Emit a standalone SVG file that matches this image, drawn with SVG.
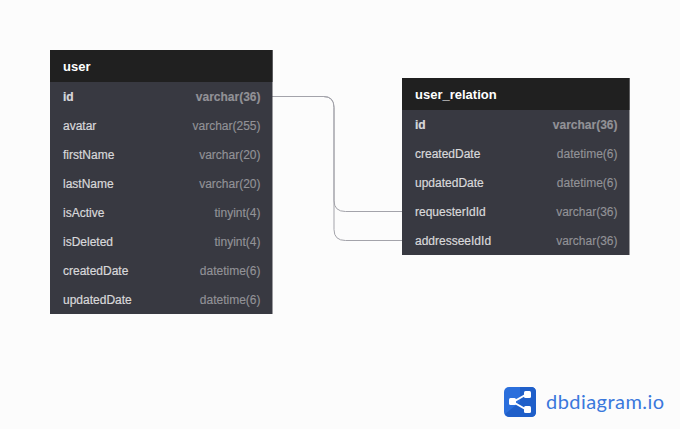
<svg xmlns="http://www.w3.org/2000/svg" width="680" height="429" viewBox="0 0 680 429">
<style>
text{font-family:"Liberation Sans",Arial,sans-serif;font-size:12px}
.body{fill:#383941}.head{fill:#202020}
.title{fill:#fff;font-size:13px;font-weight:700}
.f{fill:#d8d8da;stroke:#d8d8da;stroke-width:.2}.t{fill:#929297;stroke:#929297;stroke-width:.15;text-anchor:end}
.b{font-weight:700}
.c{fill:none;stroke:#a3a3aa;stroke-width:1}
</style>
<rect width="680" height="429" fill="#fcfcfc"/>
<g id="connectors">
<path class="c" d="M272 96.500H323.500Q334 96.500 334 107.500V200.500Q334 211.500 345.500 211.500H402"/>
<path class="c" d="M272 96.500H323.500Q334 96.500 334 107.500V229.500Q334 240.500 345.500 240.500H402"/>
</g>
<g id="user">
<rect class="body" x="50" y="50" width="222.500" height="264"/>
<rect class="head" x="50" y="50" width="222.500" height="32"/>
<text class="title" x="63" y="71">user</text>
<text class="f b" x="63" y="101">id</text><text class="t b" x="260.500" y="101">varchar(36)</text>
<text class="f" x="63" y="130">avatar</text><text class="t" x="260.500" y="130">varchar(255)</text>
<text class="f" x="63" y="159">firstName</text><text class="t" x="260.500" y="159">varchar(20)</text>
<text class="f" x="63" y="188">lastName</text><text class="t" x="260.500" y="188">varchar(20)</text>
<text class="f" x="63" y="217">isActive</text><text class="t" x="260.500" y="217">tinyint(4)</text>
<text class="f" x="63" y="246">isDeleted</text><text class="t" x="260.500" y="246">tinyint(4)</text>
<text class="f" x="63" y="275">createdDate</text><text class="t" x="260.500" y="275">datetime(6)</text>
<text class="f" x="63" y="304">updatedDate</text><text class="t" x="260.500" y="304">datetime(6)</text>
</g>
<g id="user_relation">
<rect class="body" x="402" y="78" width="227.500" height="177"/>
<rect class="head" x="402" y="78" width="227.500" height="32"/>
<text class="title" x="415" y="99">user_relation</text>
<text class="f b" x="415" y="129">id</text><text class="t b" x="617.500" y="129">varchar(36)</text>
<text class="f" x="415" y="158">createdDate</text><text class="t" x="617.500" y="158">datetime(6)</text>
<text class="f" x="415" y="187">updatedDate</text><text class="t" x="617.500" y="187">datetime(6)</text>
<text class="f" x="415" y="216">requesterIdId</text><text class="t" x="617.500" y="216">varchar(36)</text>
<text class="f" x="415" y="245">addresseeIdId</text><text class="t" x="617.500" y="245">varchar(36)</text>
</g>
<g id="logo">
<rect x="504" y="387" width="32" height="30" rx="5" fill="#2b6fdc"/>
<path d="M520 387H531Q536 387 536 392V412Q536 417 531 417H510Q506 417 505 414L520 402Z" fill="#1f5fc9"/>
<path d="M527 394L513 402L527 410" fill="none" stroke="#fff" stroke-width="2"/>
<rect x="509" y="398" width="7" height="7" rx="1.500" fill="#fff"/>
<rect x="524" y="391" width="7" height="7" rx="1.500" fill="#fff"/>
<rect x="524" y="406" width="7" height="7" rx="1.500" fill="#fff"/>
<text x="546" y="409" style="font-family:Lato,sans-serif;font-size:20px;letter-spacing:.45px" fill="#3a78dc">dbdiagram.io</text>
</g>
</svg>
